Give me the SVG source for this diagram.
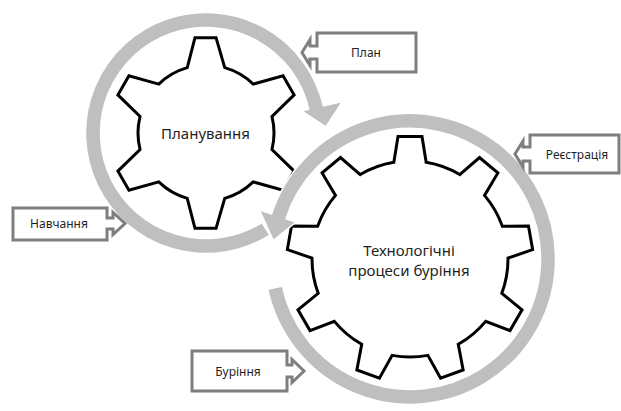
<svg xmlns="http://www.w3.org/2000/svg" width="621" height="411" viewBox="0 0 621 411">
<style>
.gear{fill:#fff;stroke:#000;stroke-width:3;stroke-linejoin:miter}
.cyc{fill:#bfbfbf;stroke:#fff;stroke-width:1.5;stroke-linejoin:miter}
.box{fill:#fff;stroke:#7f7f7f;stroke-width:3;stroke-linejoin:miter}
.t{font-family:"Noto Sans","Liberation Sans",sans-serif;fill:#1f1f1f;text-anchor:middle}
.s{font-size:12px}
.g{font-size:15px}
</style>
<rect width="621" height="411" fill="#fff"/>
<g id="gear-planning">
<path class="gear" d="M187.26,67.63 L194.97,37.63 L216.03,37.63 L224.74,67.63 A68,68 0 0 1 253.24,84.09 L283.07,75.76 L294.11,94.88 L271.98,116.55 A68,68 0 0 1 271.98,149.45 L294.11,171.12 L283.07,190.24 L253.24,181.91 A68,68 0 0 1 224.74,198.37 L216.03,228.37 L194.97,228.37 L187.26,198.37 A68,68 0 0 1 158.76,181.91 L128.93,190.24 L117.89,171.12 L140.02,149.45 A68,68 0 0 1 140.02,116.55 L117.89,94.88 L128.93,75.76 L158.76,84.09 A68,68 0 0 1 187.26,67.63 Z"/>
<text class="t g" x="205.5" y="138.5">Планування</text>
</g>
<g id="gear-drilling">
<path class="gear" d="M393.83,162.34 L398,136.59 L422,136.59 L426.17,162.34 A98,98 0 0 1 459.74,174.56 L479.5,157.51 L497.88,172.94 L484.52,195.36 A98,98 0 0 1 502.37,226.29 L528.47,225.93 L532.64,249.57 L508,258.15 A98,98 0 0 1 501.8,293.32 L522.02,309.81 L510.01,330.6 L485.62,321.34 A98,98 0 0 1 458.26,344.3 L463.15,369.92 L440.59,378.14 L427.86,355.36 A98,98 0 0 1 392.14,355.36 L379.41,378.14 L356.85,369.92 L361.74,344.3 A98,98 0 0 1 334.38,321.34 L309.99,330.6 L297.98,309.81 L318.2,293.32 A98,98 0 0 1 312,258.15 L287.36,249.57 L291.53,225.93 L317.63,226.29 A98,98 0 0 1 335.48,195.36 L322.12,172.94 L340.5,157.51 L360.26,174.56 A98,98 0 0 1 393.83,162.34 Z"/>
<text class="t g" x="409" y="255.5">Технологічні</text>
<text class="t g" x="409" y="275.5">процеси буріння</text>
</g>
<g id="connectors">
<path id="cycle-drilling" class="cyc" d="M267.7,289.25 A145.5,145.5 0 1 0 271.6,214 L259.5,210 L273.3,240.5 L296,222 L285.9,218.7 A130.5,130.5 0 1 1 282.4,286.1 Z"/>
<path id="cycle-planning" class="cyc" d="M269.9,235.2 A120.5,120.5 0 1 1 323.4,105.9 L342.4,101.5 L326,127 L301.5,111 L308.8,109.3 A105.5,105.5 0 1 0 261.9,222.5 Z"/>
</g>
<g id="callout-plan">
<path class="box" d="M317,33 H416 V72 H317 V59 H310 V65.5 L302,52.5 L310,39.5 V46 H317 Z"/>
<text class="t s" x="366" y="57">План</text>
</g>
<g id="callout-registration">
<path class="box" d="M530,135 H619 V173 H530 V161 H523 V167 L515,154 L523,141 V147 H530 Z"/>
<text class="t s" x="577" y="158.5">Реєстрація</text>
</g>
<g id="callout-training">
<path class="box" d="M13,208 H107 V218 H113 V212.5 L125,223.5 L113,234.5 V229 H107 V240 H13 Z"/>
<text class="t s" x="59" y="228">Навчання</text>
</g>
<g id="callout-drilling">
<path class="box" d="M192,351 H287 V365 H292 V359.5 L304,371 L292,382.5 V377 H287 V391 H192 Z"/>
<text class="t s" x="238" y="375.5">Буріння</text>
</g>
</svg>
